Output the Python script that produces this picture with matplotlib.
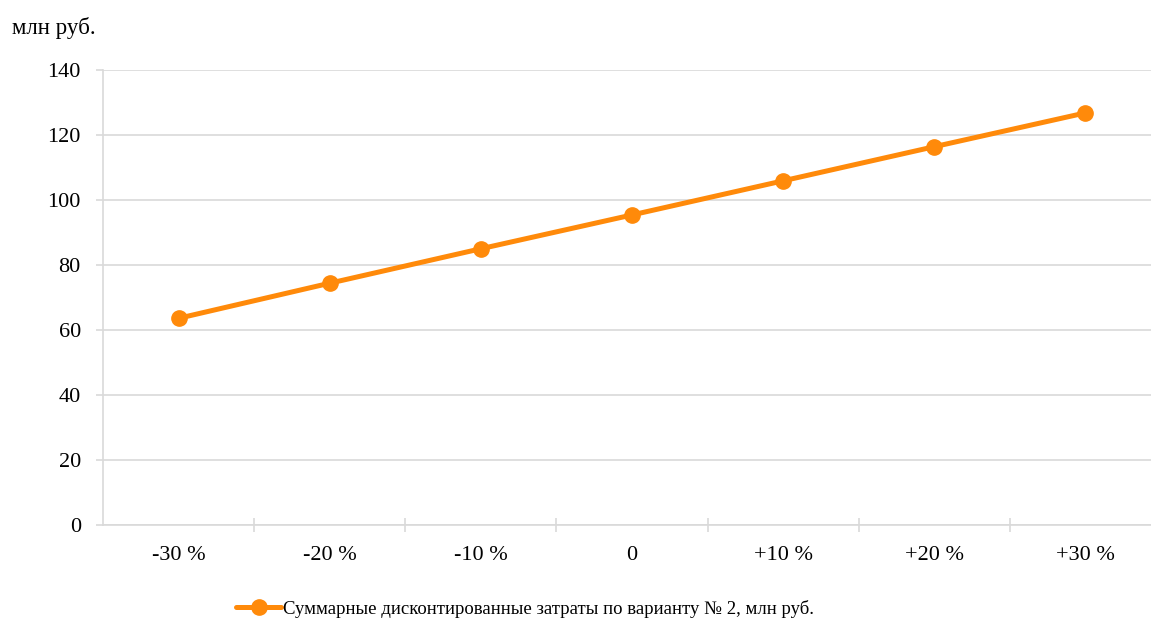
import matplotlib
matplotlib.use("Agg")
import matplotlib.pyplot as plt
import numpy as np

# Data
categories = ['-30 %', '-20 %', '-10 %', '0', '+10 %', '+20 %', '+30 %']
costs = [63.6, 74.4, 85.0, 95.4, 105.9, 116.4, 126.8]
series_label = 'Суммарные дисконтированные затраты по варианту № 2, млн руб.'
unit_label = 'млн руб.'
y_ticks = [0, 20, 40, 60, 80, 100, 120, 140]

plt.rcParams['font.family'] = ['Liberation Serif', 'DejaVu Serif']

grid_color = '#D9D9D9'
line_color = '#FF8A0A'

fig = plt.figure(figsize=(11.51, 6.26), dpi=100)
ax = fig.add_axes([103 / 1151, (626 - 525) / 626, 1058 / 1151, 455 / 626])

x = np.arange(len(categories))
ax.plot(x, costs, color=line_color, linewidth=3.6, marker='o',
        markersize=11, label=series_label, solid_capstyle='round', zorder=3)

ax.set_xlim(-0.5, len(categories) - 0.5)
ax.set_ylim(0, 140)
ax.set_yticks(y_ticks)
ax.set_xticks(x)
ax.set_xticklabels(categories)
ax.set_xticks(np.arange(0.5, len(categories) - 1, 1), minor=True)

ax.grid(axis='y', color=grid_color, linewidth=1.2, zorder=0)
for side in ['top', 'right']:
    ax.spines[side].set_visible(False)
for side in ['left', 'bottom']:
    ax.spines[side].set_color(grid_color)
    ax.spines[side].set_linewidth(1.2)

ax.tick_params(axis='y', length=5, width=1.2, color=grid_color, pad=11,
               labelsize=16, labelcolor='black')
ax.tick_params(axis='x', which='major', length=0, pad=15,
               labelsize=16, labelcolor='black')
ax.tick_params(axis='x', which='minor', direction='inout', length=10,
               width=1.2, color=grid_color)

fig.text(12 / 1151, 1 - 28 / 626, unit_label, fontsize=16.5, va='center', ha='left')

fig.legend(loc='center', bbox_to_anchor=(525 / 1151, 1 - 609 / 626),
           frameon=False, fontsize=13.5, handlelength=2.4, handletextpad=0.1)

fig.savefig('out.png', dpi=100)
